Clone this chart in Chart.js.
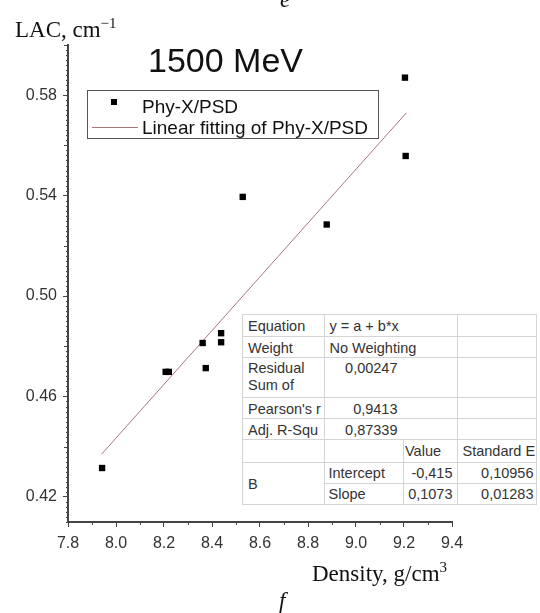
<!DOCTYPE html>
<html>
<head>
<meta charset="utf-8">
<script src="https://cdn.jsdelivr.net/npm/chart.js@4"></script>
<style>
  body { margin: 0; background: #fff; }
  #wrap { position: relative; width: 540px; height: 613px; overflow: hidden; }
  #lacChart { position: absolute; left: 0; top: 0; }
  .lbl { position: absolute; white-space: nowrap; line-height: 1; }
  .serif { font-family: "Times New Roman", "Liberation Serif", serif; font-size: 23px; color: #111; }
  .sans { font-family: Arial, "Liberation Sans", sans-serif; color: #111; }
  #legendBox { position: absolute; left: 87px; top: 90px; width: 290px; height: 47px; border: 1px solid #555; background: #fff; }
  #stats { position: absolute; left: 242px; top: 314px; border-collapse: collapse; table-layout: fixed;
           font-family: Arial, "Liberation Sans", sans-serif; font-size: 14.5px; color: #333; background: #fff;
           border: 1px solid #888; }
  #stats td { border: 1px solid #d4d4d4; padding: 2.5px 0 0 5px; vertical-align: top; line-height: 16.7px;
              white-space: nowrap; overflow: hidden; }
  #stats td.num { text-align: right; padding-left: 0; }
  .clip { height: 37px; overflow: hidden; }
</style>
</head>
<body>
<div id="wrap">
  <canvas id="lacChart" width="540" height="613"></canvas>

  <div class="lbl serif" style="left:15px; top:16px;">LAC, cm<sup style="font-size:15px; vertical-align:9px;">−1</sup></div>
  <div class="lbl serif" style="left:280px; top:-12px; font-style:italic;">e</div>
  <div class="lbl sans" style="left:148px; top:43px; font-size:34px;">1500 MeV</div>

  <div id="legendBox"></div>
  <div style="position:absolute; left:111px; top:99px; width:6px; height:6px; background:#000;"></div>
  <div class="lbl sans" style="left:142px; top:97px; font-size:19px;">Phy-X/PSD</div>
  <div style="position:absolute; left:92px; top:127px; width:46px; height:0; border-top:1px solid #a87878;"></div>
  <div class="lbl sans" style="left:142px; top:118px; font-size:19px;">Linear fitting of Phy-X/PSD</div>

  <table id="stats">
    <colgroup><col style="width:81.5px"><col style="width:79.5px"><col style="width:53.5px"><col style="width:79px"></colgroup>
    <tr style="height:22px"><td>Equation</td><td colspan="2">y = a + b*x</td><td></td></tr>
    <tr style="height:20.7px"><td>Weight</td><td colspan="2">No Weighting</td><td></td></tr>
    <tr style="height:40.6px"><td><div class="clip">Residual<br>Sum of<br>Squares</div></td><td colspan="2" class="num" style="padding-right:59px">0,00247</td><td></td></tr>
    <tr style="height:21px"><td>Pearson's r</td><td colspan="2" class="num" style="padding-right:59px">0,9413</td><td></td></tr>
    <tr style="height:21px"><td>Adj. R-Squ</td><td colspan="2" class="num" style="padding-right:59px">0,87339</td><td></td></tr>
    <tr style="height:22.4px"><td></td><td></td><td style="padding-left:1px">Value</td><td>Standard E</td></tr>
    <tr style="height:21px"><td rowspan="2" style="vertical-align:middle">B</td><td style="padding-left:4px">Intercept</td><td class="num" style="padding-right:4px">-0,415</td><td class="num" style="padding-right:2px">0,10956</td></tr>
    <tr style="height:21.3px"><td style="padding-left:4px">Slope</td><td class="num" style="padding-right:4px">0,1073</td><td class="num" style="padding-right:2px">0,01283</td></tr>
  </table>

  <div class="lbl serif" style="left:312px; top:560px;">Density, g/cm<sup style="font-size:15px; vertical-align:9px;">3</sup></div>
  <div class="lbl serif" style="left:279px; top:589px; font-style:italic;">f</div>
</div>

<script>
// === Data ===
const densityX = [7.942, 8.207, 8.220, 8.361, 8.374, 8.438, 8.438, 8.528, 8.878, 9.204, 9.207];
const lacY     = [0.4315, 0.4698, 0.4698, 0.4813, 0.4713, 0.4852, 0.4816, 0.5395, 0.5285, 0.587, 0.5558];

// fitted line end points (y = -0.415 + 0.1073x)
const fitX = [7.94, 9.21];
const fitY = [0.437, 0.573];

// tick labels
const xTicks = [7.8, 8.0, 8.2, 8.4, 8.6, 8.8, 9.0, 9.2, 9.4];
const yTicks = [0.42, 0.46, 0.50, 0.54, 0.58];

const axisColor = "#444";
const tickFont = { family: "Arial, 'Liberation Sans', sans-serif", size: 16 };

// === Minor ticks, drawn through the scales ===
const minorTicks = {
  id: "minorTicks",
  afterDraw(chart) {
    const { ctx, scales: { x, y } } = chart;
    ctx.save();
    ctx.strokeStyle = axisColor;
    ctx.lineWidth = 1;
    // x: minor every 0.1
    for (let i = 0; i < xTicks.length - 1; i++) {
      const px = Math.round(x.getPixelForValue((xTicks[i] + xTicks[i + 1]) / 2)) + 0.5;
      ctx.beginPath();
      ctx.moveTo(px, y.bottom);
      ctx.lineTo(px, y.bottom + 3);
      ctx.stroke();
    }
    // y: tiny every 0.002, medium every 0.02
    for (let k = 205; k <= 300; k++) {
      const v = k * 0.002;
      if (k % 20 === 10) continue; // majors
      const py = Math.round(y.getPixelForValue(v)) + 0.5;
      const len = (k % 10 === 0) ? 4 : 2;
      ctx.beginPath();
      ctx.moveTo(x.left - len, py);
      ctx.lineTo(x.left, py);
      ctx.stroke();
    }
    ctx.restore();
  }
};

const ctx = document.getElementById("lacChart").getContext("2d");

new Chart(ctx, {
  type: "scatter",
  data: {
    datasets: [
      {
        label: "Phy-X/PSD",
        data: densityX.map((d, i) => ({ x: d, y: lacY[i] })),
        pointStyle: "rect",
        pointRadius: 4.5,
        backgroundColor: "#000",
        borderColor: "#000",
        borderWidth: 0
      },
      {
        label: "Linear fitting of Phy-X/PSD",
        type: "line",
        data: fitX.map((d, i) => ({ x: d, y: fitY[i] })),
        borderColor: "#a87878",
        borderWidth: 1,
        pointRadius: 0,
        fill: false
      }
    ]
  },
  options: {
    responsive: false,
    animation: false,
    devicePixelRatio: 1,
    layout: { padding: { top: 45, right: 88, left: 0, bottom: 0 } },
    plugins: {
      legend: { display: false },
      tooltip: { enabled: false }
    },
    scales: {
      x: {
        type: "linear",
        min: 7.8,
        max: 9.4,
        afterBuildTicks: s => { s.ticks = xTicks.map(v => ({ value: v })); },
        afterFit: s => { s.height = 91; },
        ticks: {
          font: tickFont,
          color: "#333",
          padding: 7,
          maxRotation: 0,
          autoSkip: false,
          callback: v => Number(v).toFixed(1)
        },
        grid: { drawOnChartArea: false, drawTicks: true, tickLength: 5, color: axisColor },
        border: { display: true, color: axisColor, width: 2 }
      },
      y: {
        type: "linear",
        min: 0.41,
        max: 0.60,
        afterBuildTicks: s => { s.ticks = yTicks.map(v => ({ value: v })); },
        afterFit: s => { s.width = 68; },
        ticks: {
          font: tickFont,
          color: "#333",
          padding: 6,
          autoSkip: false,
          callback: v => Number(v).toFixed(2)
        },
        grid: { drawOnChartArea: false, drawTicks: true, tickLength: 5, color: axisColor },
        border: { display: true, color: axisColor, width: 2 }
      }
    }
  },
  plugins: [minorTicks]
});
</script>
</body>
</html>
